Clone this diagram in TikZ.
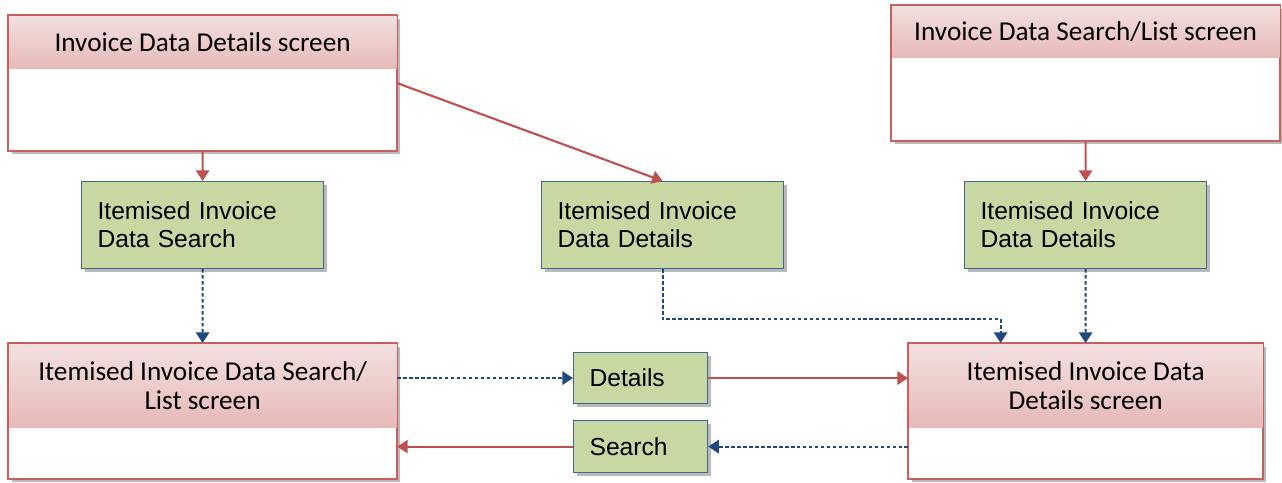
\documentclass[tikz,border=0pt]{standalone}
\usepackage{fontspec}
\setmainfont{Carlito}
\newfontfamily\arialfont{Liberation Sans}
\usetikzlibrary{arrows.meta,shadows,positioning,calc}

\definecolor{screenline}{HTML}{C9605D}
\definecolor{headtop}{HTML}{F4E0E0}
\definecolor{headbot}{HTML}{E6B9B8}
\definecolor{actfill}{HTML}{C7D8A2}
\definecolor{actline}{HTML}{41668F}
\definecolor{flowred}{HTML}{C0504D}
\definecolor{navblue}{HTML}{1F497D}

\tikzset{
  screen/.style={draw=screenline, fill=white, line width=0.7pt, inner sep=0pt,
    anchor=north west, minimum width=#1, minimum height=2.7cm,
    drop shadow={shadow xshift=0.06cm, shadow yshift=-0.06cm, opacity=0.45, fill=black!60}},
  header/.style={top color=headtop, bottom color=headbot, inner sep=0pt, anchor=north,
    minimum width=#1, align=center, font=\fontsize{15.5}{16.5}\selectfont},
  action/.style={draw=actline, fill=actfill, line width=0.7pt, anchor=north west,
    align=left, inner sep=0pt, text width=#1, font=\arialfont\fontsize{14}{16}\selectfont,
    drop shadow={shadow xshift=0.06cm, shadow yshift=-0.06cm, opacity=0.45, fill=black!60}},
  flow/.style={draw=flowred, line width=1.2pt, -{Triangle[width=7.5pt,length=6pt]}},
  nav/.style={draw=navblue, line width=1.2pt, dash pattern=on 2pt off 1.4pt,
    -{Triangle[width=7.5pt,length=6pt]}}
}

\begin{document}
\begin{tikzpicture}[x=0.02cm, y=-0.02cm]
  \useasboundingbox (0,0) rectangle (1282,483);

  % screens
  \node[screen=7.76cm] (detscr) at (8,15) {};
  \node[header=7.76cm, minimum height=1.06cm] at (detscr.north) {Invoice Data Details screen};
  \draw[screenline, line width=0.7pt] (detscr.north west) rectangle (detscr.south east);

  \node[screen=7.76cm] (listscr) at (891,5) {};
  \node[header=7.76cm, minimum height=1.04cm] at (listscr.north) {Invoice Data Search/List screen};
  \draw[screenline, line width=0.7pt] (listscr.north west) rectangle (listscr.south east);

  \node[screen=7.76cm] (itemlist) at (8,343) {};
  \node[header=7.76cm, minimum height=1.68cm] at (itemlist.north) {Itemised Invoice Data Search/\\List screen};
  \draw[screenline, line width=0.7pt] (itemlist.north west) rectangle (itemlist.south east);

  \node[screen=7.08cm] (itemdet) at (908,343) {};
  \node[header=7.08cm, minimum height=1.68cm] at (itemdet.north) {Itemised Invoice Data\\Details screen};
  \draw[screenline, line width=0.7pt] (itemdet.north west) rectangle (itemdet.south east);

  % actions
  \node[action=4.2cm, minimum width=4.84cm, minimum height=1.74cm, inner xsep=0.32cm] (srchact) at (81,181) {Itemised Invoice\\Data Search};
  \node[action=4.2cm, minimum width=4.84cm, minimum height=1.74cm, inner xsep=0.32cm] (detact) at (541,181) {Itemised Invoice\\Data Details};
  \node[action=4.2cm, minimum width=4.84cm, minimum height=1.74cm, inner xsep=0.32cm] (listact) at (964,181) {Itemised Invoice\\Data Details};
  \node[action=2.04cm, minimum width=2.68cm, minimum height=1.02cm, inner xsep=0.32cm] (details) at (573,352) {Details};
  \node[action=2.04cm, minimum width=2.68cm, minimum height=1.04cm, inner xsep=0.32cm] (search) at (573,420) {Search};

  % connectors
  \draw[flow] (detscr.south) -- (srchact.north);
  \draw[flow] (detscr.east) -- (detact.north);
  \draw[flow] (listscr.south) -- (listact.north);
  \draw[nav] (srchact.south) -- (itemlist.north);
  \draw[nav] (detact.south) -- ++(0,50) -| ([xshift=-1.7cm]itemdet.north);
  \draw[nav] (listact.south) -- (itemdet.north);
  \draw[nav] (details.west -| itemlist.east) -- (details.west);
  \draw[flow] (details.east) -- (details.east -| itemdet.west);
  \draw[nav] (search.east -| itemdet.west) -- (search.east);
  \draw[flow] (search.west) -- (search.west -| itemlist.east);
\end{tikzpicture}
\end{document}
